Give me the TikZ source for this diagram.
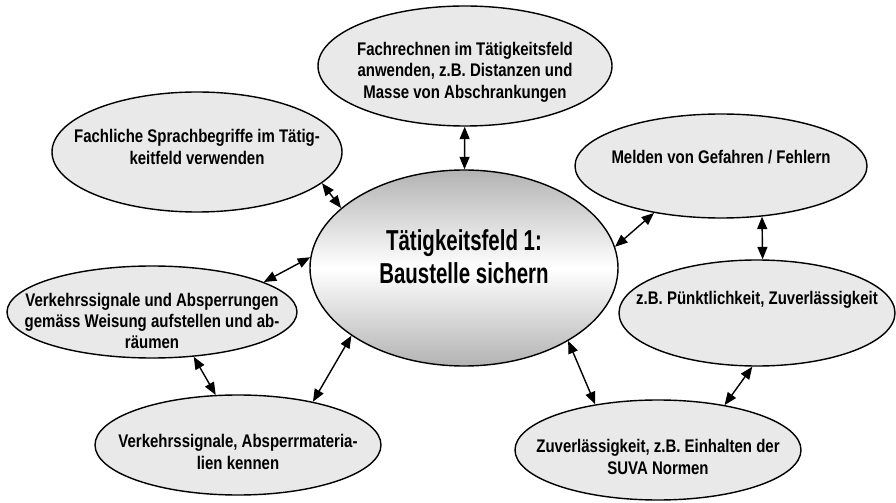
\documentclass[tikz,border=0pt]{standalone}
\usepackage{fontspec}
\setmainfont{Liberation Sans}[FakeStretch=0.82]
\newfontfamily\hubfont{Liberation Sans}[FakeStretch=0.71]
\usetikzlibrary{shapes.geometric,arrows.meta}

\begin{document}
\begin{tikzpicture}[>={Triangle[length=2.5mm,width=2mm]}]
	\useasboundingbox (0,0) rectangle (17.92,10.04);

	\begin{scope}[every node/.style={ellipse,draw,line width=0.8pt,fill=gray!17,inner sep=0pt}]
		\node[minimum width=5.88cm,minimum height=2.40cm] (T) at (9.30,8.72) {};
		\node[minimum width=5.80cm,minimum height=2.40cm] (F) at (3.94,7.00) {};
		\node[minimum width=5.84cm,minimum height=2.08cm] (M) at (14.42,6.72) {};
		\node[minimum width=5.52cm,minimum height=2.12cm] (P) at (15.14,3.78) {};
		\node[minimum width=5.80cm,minimum height=1.84cm] (V) at (3.04,3.80) {};
		\node[minimum width=5.72cm,minimum height=2.00cm] (K) at (4.76,1.14) {};
		\node[minimum width=5.72cm,minimum height=2.00cm] (S) at (13.16,1.04) {};
		\node[minimum width=6.16cm,minimum height=3.92cm,top color=gray!60,bottom color=gray!60,middle color=white] (C) at (9.28,4.68) {};
	\end{scope}

	\begin{scope}[every node/.style={align=center,font=\bfseries\fontsize{10.4}{12.2}\selectfont}]
		\node (Tt) at ([yshift=-0.12cm]T.center) {Fachrechnen im Tätigkeitsfeld\\anwenden, z.B. Distanzen und\\Masse von Abschrankungen};
		\node (Ft) at ([yshift=0.10cm]F.center) {Fachliche Sprachbegriffe im Tätig-\\keitfeld verwenden};
		\node (Mt) at ([yshift=0.18cm]M.center) {Melden von Gefahren / Fehlern};
		\node (Pt) at ([yshift=0.26cm]P.center) {z.B. Pünktlichkeit, Zuverlässigkeit};
		\node (Vt) at ([yshift=-0.18cm]V.center) {Verkehrssignale und Absperrungen\\gemäss Weisung aufstellen und ab-\\räumen};
		\node (Kt) at ([yshift=-0.14cm]K.center) {Verkehrssignale, Absperrmateria-\\lien kennen};
		\node (St) at ([yshift=-0.14cm]S.center) {Zuverlässigkeit, z.B. Einhalten der\\SUVA Normen};
		\node[font=\hubfont\bfseries\fontsize{16.4}{18.8}\selectfont] (Ct) at ([yshift=0.22cm]C.center) {Tätigkeitsfeld 1:\\Baustelle sichern};
	\end{scope}

	\begin{scope}[every edge/.style={draw=black,line width=0.8pt}]
		\path [<->] (T) edge (C);
		\path [<->] (F.-14) edge (C.154);
		\path [<->] (V.15) edge (C.176);
		\path [<->] (V.-47) edge (K.114);
		\path [<->] (C.-149) edge (K.30);
		\path [<->] (C.-35) edge (S.144);
		\path [<->] (P.-95) edge (S.34);
		\path [<->] (M.-51) edge (P.84);
		\path [<->] (C.8) edge (M.-145);
	\end{scope}
\end{tikzpicture}
\end{document}
